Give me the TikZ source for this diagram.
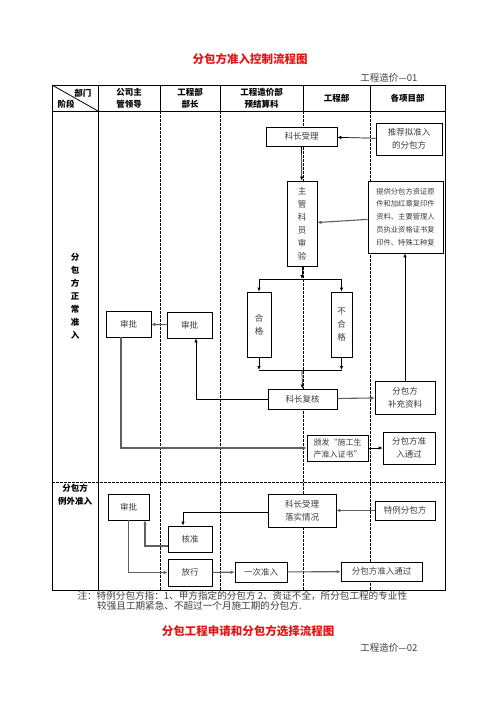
\documentclass[tikz,border=0pt]{standalone}
\usepackage{fontspec}
\setmainfont{Noto Sans CJK SC}
\usepackage{tikz}
\usetikzlibrary{arrows.meta,calc,positioning}
\definecolor{TitleRed}{RGB}{228,20,20}
\definecolor{LineGray}{RGB}{95,95,95}
\definecolor{TextGray}{RGB}{60,60,60}

\begin{document}
\begin{tikzpicture}[x=1pt,y=-1pt,
  box/.style={draw,fill=white,line width=0.7pt,align=center,inner sep=0pt,text=TextGray,
    font=\fontsize{8.5}{13}\selectfont},
  head/.style={align=center,font=\bfseries\fontsize{8.5}{12}\selectfont},
  arr/.style={-{Latex[length=4pt,width=3.5pt]},line width=0.7pt},
  garr/.style={arr,draw=LineGray,line width=1.1pt},
  lane/.style={dash pattern=on 2.5pt off 1.5pt,line width=0.6pt}]
\useasboundingbox (0,0) rectangle (496,702);
% titles
\node[text=TitleRed,font=\bfseries\fontsize{11.5}{14}\selectfont] (title1) at (250,59) {分包方准入控制流程图};
\node[anchor=east,text=TextGray,font=\fontsize{9.5}{12}\selectfont] (no1) at (421,78) {工程造价—01};
% table frame
\draw[line width=0.8pt] (52,85) rectangle (445,590);
\draw[line width=0.8pt] (52,111)--(445,111);
\draw[line width=0.8pt] (98,85)--(98,590);
\draw[line width=0.8pt] (52,85)--(98,111);
\foreach \x in {160,220,303,370}{
  \draw[line width=0.8pt] (\x,85)--(\x,111);
  \draw[lane] (\x,111)--(\x,590);
}
\draw[lane] (52,482)--(445,482);
% header
\node[head,anchor=east] (bm) at (95,93) {部门};
\node[head,anchor=west] (jd) at (54,104) {阶段};
\node[head] (h1) at (129,98) {公司主\\管领导};
\node[head] (h2) at (190,98) {工程部\\部长};
\node[head] (h3) at (261.5,98) {工程造价部\\预结算科};
\node[head] (h4) at (336.5,98) {工程部};
\node[head] (h5) at (407.5,98) {各项目部};
\node[head,font=\bfseries\fontsize{8.5}{13}\selectfont] (stage1) at (75,296) {分\\包\\方\\正\\常\\准\\入};
\node[head,font=\bfseries\fontsize{8.5}{13}\selectfont] (stage2) at (75,495) {分包方\\例外准入};
% normal admission
\node[box,minimum width=71,minimum height=19] (kzsl) at (301.5,136.5) {科长受理};
\node[box,minimum width=66,minimum height=32] (tjfb) at (409,139) {推荐拟准入\\的分包方};
\node[box,minimum width=30,minimum height=85] (zgky) at (302,223.5) {主\\管\\科\\员\\审\\验};
\node[box,minimum width=75,minimum height=72,font=\fontsize{7.3}{12.8}\selectfont] (tgzl) at (405.5,217)
  {提供分包方资证原\\件和加红章复印件\\资料、主要管理人\\员执业资格证书复\\印件、特殊工种复};
\node[box,minimum width=24,minimum height=65] (hg) at (259,324.5) {合\\格};
\node[box,minimum width=21,minimum height=65] (bhg) at (341.5,324.5) {不\\合\\格};
\node[box,minimum width=69,minimum height=20] (kzfh) at (302.5,399) {科长复核};
\node[box,minimum width=60,minimum height=33] (bczl) at (405,397.5) {分包方\\补充资料};
\node[box,minimum width=61,minimum height=26,font=\fontsize{8}{12}\selectfont] (bfzs) at (337.5,448) {颁发“施工生\\产准入证书”};
\node[box,minimum width=52,minimum height=32] (zrtg) at (409,448) {分包方准\\入通过};
\node[box,minimum width=45,minimum height=26] (spb) at (189.5,325) {审批};
\node[box,minimum width=45,minimum height=26] (spa) at (128.5,324) {审批};
\coordinate (jt) at (302,279);
\coordinate (jb) at (302,370);
\draw[arr] (tjfb) -- (kzsl);
\draw[arr] (kzsl) -- (zgky);
\draw[garr] (tgzl) -- (zgky);
\draw[arr] (zgky) -- (jt);
\draw[arr] (jt) -| (hg);
\draw[arr] (jt) -| (bhg);
\draw[arr] (hg.south) -- (hg.south |- jb);
\draw[arr] (bhg.south) -- (bhg.south |- jb);
\draw[line width=0.7pt] (hg.south |- jb) -- (bhg.south |- jb);
\draw[arr] (jb) -- (kzfh);
\draw[garr] (kzfh) -- (bczl);
\draw[arr] (bczl.north) -- (bczl.north |- tgzl.south);
\draw[arr] (kzfh.west) -| ([xshift=6.5pt]spb.south);
\draw[garr] (spb) -- (spa);
\draw[garr] ([xshift=-7.5pt]spa.south) |- (bfzs.west);
\draw[arr] (bfzs) -- (zrtg);
% exceptional admission
\node[box,minimum width=41,minimum height=26] (spc) at (128.5,507) {审批};
\node[box,minimum width=68,minimum height=33] (kzls) at (302,510.5) {科长受理\\落实情况};
\node[box,minimum width=60,minimum height=19] (tlfb) at (405,510.5) {特例分包方};
\node[box,minimum width=44,minimum height=26] (hz) at (190,539) {核准};
\node[box,minimum width=44,minimum height=27] (fx) at (190,572.5) {放行};
\node[box,minimum width=52,minimum height=20] (yczr) at (261,572) {一次准入};
\node[box,minimum width=81,minimum height=19] (zrtg2) at (381.5,571.5) {分包方准入通过};
\draw[garr] (tlfb) -- (kzls);
\draw[arr] ([yshift=-1.5pt]kzls.west) -| ([xshift=-7pt]hz.north);
\draw[garr] ([yshift=-7pt]hz.west) -| ([xshift=16.5pt]spc.south);
\draw[garr] (spc.south) |- (fx.west);
\draw[garr] (fx) -- (yczr);
\draw[garr] (yczr) -- (zrtg2);
% note
\node[anchor=west,text=TextGray,align=left,font=\fontsize{9.6}{10.5}\selectfont] (note) at (74,601)
  {注：特例分包方指：1、甲方指定的分包方 2、资证不全，所分包工程的专业性\\
   \hspace*{2.05em}较强且工期紧急、不超过一个月施工期的分包方.};
\node[text=TitleRed,font=\bfseries\fontsize{11.5}{14}\selectfont] (title2) at (248,631) {分包工程申请和分包方选择流程图};
\node[anchor=east,text=TextGray,font=\fontsize{9.5}{12}\selectfont] (no2) at (421,648) {工程造价—02};
\end{tikzpicture}
\end{document}
